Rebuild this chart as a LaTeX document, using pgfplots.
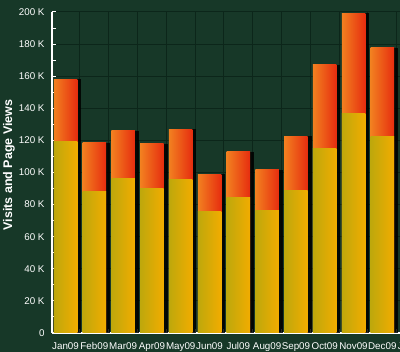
\documentclass[border=0pt]{standalone}
\usepackage{pgfplots}
\pgfplotsset{compat=1.18}
\usepackage{fontspec}
\setmainfont{Liberation Sans}
\definecolor{bgcol}{RGB}{23,56,40}
\definecolor{gridcol}{RGB}{12,38,26}
\definecolor{yelL}{RGB}{190,168,12}
\definecolor{yelR}{RGB}{242,172,0}
\definecolor{redL}{RGB}{242,128,32}
\definecolor{redR}{RGB}{230,45,15}
\pgfplotsset{
  shad/.style={ybar, bar width=23.5pt, bar shift=4pt, fill=black, fill opacity=0.85, draw=none},
  redbar/.style={ybar, bar width=23.5pt, bar shift=0pt, left color=redL, right color=redR, draw=none},
  yelbar/.style={ybar, bar width=23.5pt, bar shift=0pt, left color=yelL, right color=yelR, draw=none},
}
\begin{document}
\begin{tikzpicture}
\useasboundingbox (-52pt,-19pt) rectangle (348pt,333pt);
\fill[bgcol] (-52pt,-19pt) rectangle (348pt,333pt);
\begin{scope}
\clip (-52pt,-19pt) rectangle (348pt,333pt);
\begin{axis}[
  at={(0pt,0pt)}, anchor=south west,
  scale only axis, width=374.4pt, height=321pt,
  xmin=-0.47, xmax=12.53, ymin=0, ymax=200000,
  clip=false,
  /pgf/number format/assume math mode=true,
  axis x line*=bottom, axis y line*=left,
  axis line style={white, line width=1.3pt, -},
  xtick={0,...,12},
  xticklabels={Jan09,Feb09,Mar09,Apr09,May09,Jun09,Jul09,Aug09,Sep09,Oct09,Nov09,Dec09,Jan10},
  minor xtick={0.5,1.5,...,11.5},
  major x tick style={draw=none},
  minor x tick style={white, line width=1pt},
  xminorgrids=true,
  ytick={0,20000,...,200000},
  yticklabels={0,20 K,40 K,60 K,80 K,100 K,120 K,140 K,160 K,180 K,200 K},
  minor y tick num=1,
  ymajorgrids=true,
  major grid style={gridcol, line width=1pt},
  minor grid style={gridcol, line width=1pt},
  tick align=inside,
  major tick length=4pt, minor tick length=4pt,
  major y tick style={white, line width=1pt},
  minor y tick style={white, line width=1pt},
  ticklabel style={font=\fontsize{9.8}{11}\selectfont, text=white},
  yticklabel style={xshift=-4pt},
  xticklabel style={yshift=-5pt, text height=1.6ex, text depth=0.2ex},
  scaled y ticks=false,
  every axis y label/.style={at={(axis description cs:-0.115,0.523)}, rotate=90, anchor=center},
  ylabel={\bfseries Visits and Page Views},
  ylabel style={font=\fontsize{12.5}{14}\selectfont\bfseries, text=white},
]
% shadows (page views totals)
\addplot[shad] coordinates {(0,158000)};
\addplot[shad] coordinates {(1,118500)};
\addplot[shad] coordinates {(2,126000)};
\addplot[shad] coordinates {(3,118000)};
\addplot[shad] coordinates {(4,127000)};
\addplot[shad] coordinates {(5,99000)};
\addplot[shad] coordinates {(6,112800)};
\addplot[shad] coordinates {(7,101600)};
\addplot[shad] coordinates {(8,122700)};
\addplot[shad] coordinates {(9,167000)};
\addplot[shad] coordinates {(10,199200)};
\addplot[shad] coordinates {(11,177800)};
% page views (total)
\addplot[redbar] coordinates {(0,158000)};
\addplot[redbar] coordinates {(1,118500)};
\addplot[redbar] coordinates {(2,126000)};
\addplot[redbar] coordinates {(3,118000)};
\addplot[redbar] coordinates {(4,127000)};
\addplot[redbar] coordinates {(5,99000)};
\addplot[redbar] coordinates {(6,112800)};
\addplot[redbar] coordinates {(7,101600)};
\addplot[redbar] coordinates {(8,122700)};
\addplot[redbar] coordinates {(9,167000)};
\addplot[redbar] coordinates {(10,199200)};
\addplot[redbar] coordinates {(11,177800)};
% visits
\addplot[yelbar] coordinates {(0,119200)};
\addplot[yelbar] coordinates {(1,88000)};
\addplot[yelbar] coordinates {(2,96400)};
\addplot[yelbar] coordinates {(3,90000)};
\addplot[yelbar] coordinates {(4,95700)};
\addplot[yelbar] coordinates {(5,75500)};
\addplot[yelbar] coordinates {(6,84300)};
\addplot[yelbar] coordinates {(7,76600)};
\addplot[yelbar] coordinates {(8,88700)};
\addplot[yelbar] coordinates {(9,115100)};
\addplot[yelbar] coordinates {(10,136700)};
\addplot[yelbar] coordinates {(11,122300)};
\end{axis}
\end{scope}
\end{tikzpicture}
\end{document}
